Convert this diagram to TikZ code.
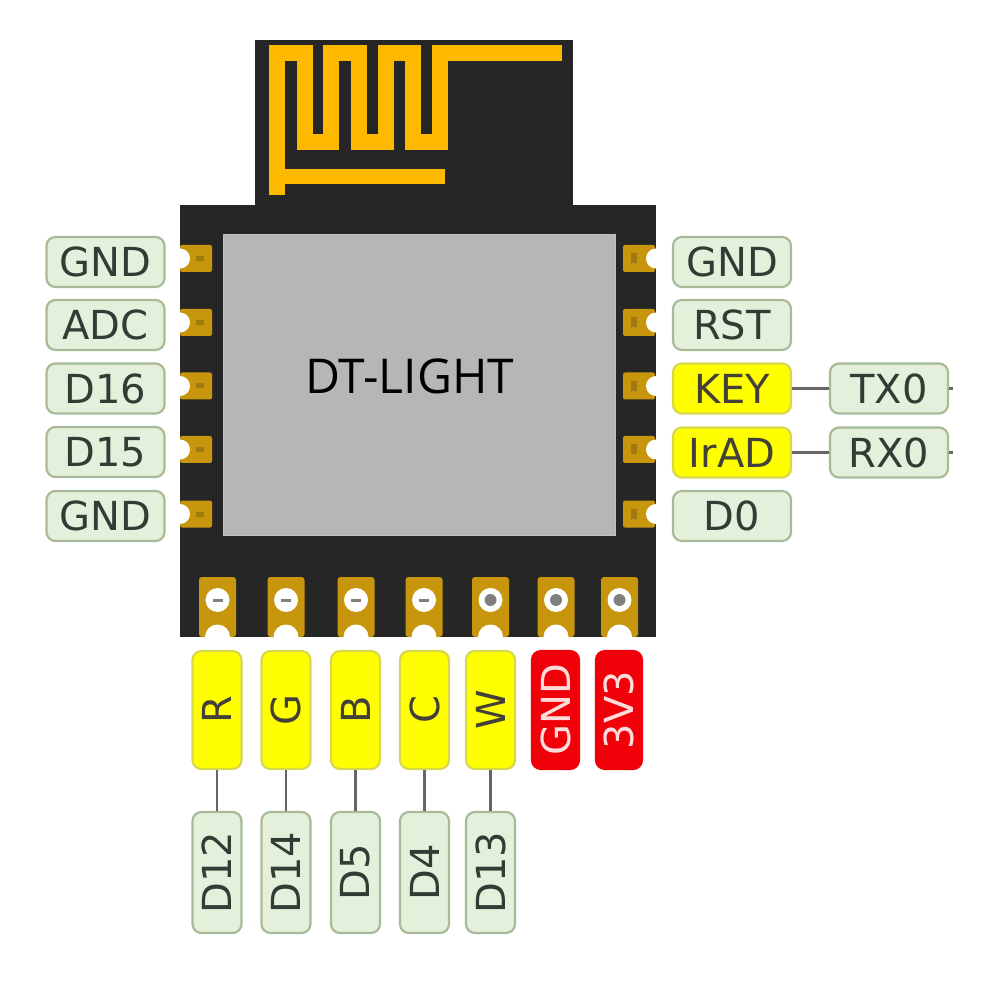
\documentclass[tikz,border=0pt]{standalone}
\usepackage{fontspec}
\setmainfont{DejaVu Sans}
\newfontfamily\chipfont{Open Sans}
\definecolor{boardblack}{HTML}{262626}
\definecolor{antennagold}{HTML}{FDB900}
\definecolor{padgold}{HTML}{C8960C}
\definecolor{padmark}{HTML}{A07A10}
\definecolor{chipgray}{HTML}{B6B6B6}
\definecolor{pinfill}{HTML}{E4F0DC}
\definecolor{pinedge}{HTML}{A8BB98}
\definecolor{pintext}{HTML}{323C34}
\definecolor{linkgray}{HTML}{666666}
\definecolor{hotyellow}{HTML}{FFFF00}
\definecolor{hotedge}{HTML}{D8D850}
\definecolor{hotred}{HTML}{F00008}
\definecolor{powertext}{HTML}{FFDCDC}
\tikzset{
	pin/.style={draw=pinedge, fill=pinfill, rounded corners=9pt, line width=2.2, text=pintext, inner sep=0pt, font=\fontsize{40}{40}\selectfont},
	pinh/.style={pin, minimum width=118pt, minimum height=50pt},
	pinv/.style={pin, rotate=90, minimum height=49pt},
	hot/.style={draw=hotedge, fill=hotyellow, text=black!85!yellow},
	power/.style={draw=hotred, fill=hotred, text=powertext},
	link/.style={linkgray, line width=2.8},
	sidepad/.style={padgold, rounded corners=2pt},
}
\begin{document}
\begin{tikzpicture}[x=1pt, y=-1pt, line cap=butt, line join=miter]
	\useasboundingbox (0,0) rectangle (1005,1000);
	% board
	\fill[boardblack] (255,40) rectangle (573,206);
	\fill[boardblack] (180,205) rectangle (656,637);
	% antenna
	\draw[antennagold, line width=16] (277,195) -- (277,53.5) -- (304.5,53.5) -- (304.5,142) -- (330.5,142) -- (330.5,53.5) -- (358.5,53.5) -- (358.5,142) -- (385.5,142) -- (385.5,53.5) -- (412.5,53.5) -- (412.5,142) -- (440,142) -- (440,53.5) -- (562,53.5);
	\draw[antennagold, line width=15.5] (277,176.5) -- (445,176.5);
	% chip
	\node[fill=chipgray, draw=chipgray!85!white, line width=1, minimum width=392pt, minimum height=300pt, inner sep=0pt] (chip) at (419,385) {};
	\node[font=\chipfont\fontsize{48}{48}\selectfont, text=black] (chipname) at (409.5,376) {DT-LIGHT};
	% side pads
	\foreach \y in {258.5,322.5,386,449.5,514} {
		\fill[sidepad] (180,\y-13.5) rectangle (212,\y+13.5);
		\fill[padmark] (196,\y-2.5) rectangle (204,\y+2.5);
		\fill[white] (180,\y) circle (10);
		\fill[sidepad] (623,\y-13.5) rectangle (655,\y+13.5);
		\fill[padmark] (631,\y-5) rectangle (637,\y+5);
		\fill[white] (656,\y) circle (10);
	}
	% bottom pads
	\foreach \x in {217.5,286,356,424,490.5,556,619.5} {
		\fill[padgold, rounded corners=3pt] (\x-18.5,577) rectangle (\x+18.5,637);
		\fill[white] (\x,600) circle (12);
		\fill[white] (\x,637) circle (12.5);
	}
	\foreach \x in {217.5,286,356,424} {
		\fill[gray] (\x-5,598.5) rectangle (\x+5,601.5);
	}
	\foreach \x in {490.5,556,619.5} {
		\fill[gray] (\x,600) circle (6);
	}
	% left labels
	\node[pinh] (gndl) at (105.5,262) {GND};
	\node[pinh] (adc) at (105.5,325) {ADC};
	\node[pinh] (dsixteen) at (105.5,388.5) {D16};
	\node[pinh] (dfifteen) at (105.5,452) {D15};
	\node[pinh] (gndk) at (105.5,516) {GND};
	% right labels
	\node[pinh] (gndr) at (732,262) {GND};
	\node[pinh] (rst) at (732,325) {RST};
	\node[pinh, hot] (key) at (732,388.5) {KEY};
	\node[pinh, hot] (irad) at (732,452.5) {IrAD};
	\node[pinh] (dzero) at (732,516) {D0};
	\node[pinh] (txzero) at (889,388.5) {TX0};
	\node[pinh] (rxzero) at (889,452.5) {RX0};
	\coordinate (txend) at (953,388.5);
	\coordinate (rxend) at (953,452.5);
	\draw[link] (key) -- (txzero);
	\draw[link] (irad) -- (rxzero);
	\draw[link] (txzero) -- (txend);
	\draw[link] (rxzero) -- (rxend);
	% bottom labels
	\node[pinv, hot, minimum width=118pt] (r) at (217,710) {R};
	\node[pinv, hot, minimum width=118pt] (g) at (286,710) {G};
	\node[pinv, hot, minimum width=118pt] (b) at (355.5,710) {B};
	\node[pinv, hot, minimum width=118pt] (c) at (424.5,710) {C};
	\node[pinv, hot, minimum width=118pt] (w) at (490.5,710) {W};
	\node[pinv, power, minimum width=118pt, minimum height=47pt] (gndb) at (555.5,710) {GND};
	\node[pinv, power, minimum width=118pt, minimum height=46pt] (vcc) at (619,710) {3V3};
	\node[pinv, minimum width=121pt] (dtwelve) at (217,872.5) {D12};
	\node[pinv, minimum width=121pt] (dfourteen) at (286,872.5) {D14};
	\node[pinv, minimum width=121pt] (dfive) at (355.5,872.5) {D5};
	\node[pinv, minimum width=121pt] (dfour) at (424.5,872.5) {D4};
	\node[pinv, minimum width=121pt] (dthirteen) at (490.5,872.5) {D13};
	\draw[link] (r) -- (dtwelve);
	\draw[link] (g) -- (dfourteen);
	\draw[link] (b) -- (dfive);
	\draw[link] (c) -- (dfour);
	\draw[link] (w) -- (dthirteen);
\end{tikzpicture}
\end{document}
